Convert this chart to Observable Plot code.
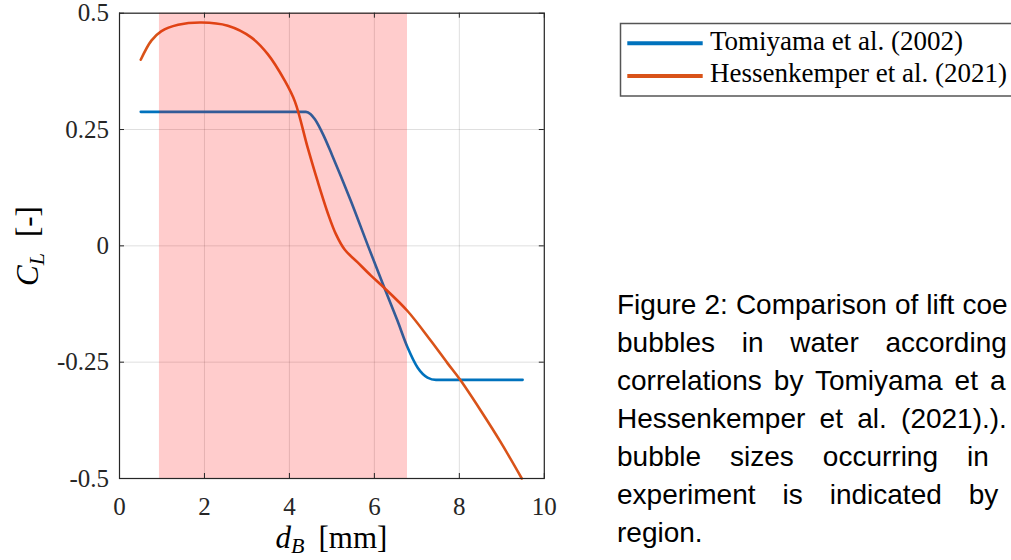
<!DOCTYPE html>
<html><head><meta charset="utf-8">
<script src="https://cdn.jsdelivr.net/npm/d3@7"></script>
<script src="https://cdn.jsdelivr.net/npm/@observablehq/plot@0.6"></script>
<style>
html,body{margin:0;padding:0;background:#fff;}
#wrap{position:relative;width:1011px;height:560px;overflow:hidden;}
#wrap svg{display:block;}
#legend{position:absolute;left:0;top:0;pointer-events:none;}
#caption{position:absolute;left:617px;top:286px;font-family:"Liberation Sans",Arial,sans-serif;font-size:28px;line-height:38px;color:#000;white-space:nowrap;}
</style></head><body>
<div id="wrap"></div>
<script>
// ---- data ----
const xTicks = [0, 2, 4, 6, 8, 10];
const xTickLabels = ["0", "2", "4", "6", "8", "10"];
const yTicks = [-0.5, -0.25, 0, 0.25, 0.5];
const yTickLabels = ["-0.5", "-0.25", "0", "0.25", "0.5"];

const tomiyamaD  = [0.5, 4.39, 4.5, 4.6, 4.8, 5.0, 5.44, 5.85, 6.23, 6.54, 6.78, 7.02, 7.25, 7.45, 9.49];
const tomiyamaCL = [0.288, 0.288, 0.283, 0.272, 0.238, 0.196, 0.098, 0.0, -0.089, -0.16, -0.218, -0.262, -0.283, -0.288, -0.288];

const hessD  = [0.5, 0.75, 0.98, 1.38, 1.93, 2.55, 3.1, 3.49, 3.89, 4.13, 4.43, 4.66, 4.92, 5.1, 5.3, 5.6, 5.92, 6.23, 6.78, 7.33, 7.72, 8.02, 8.51, 8.98, 9.47];
const hessCL = [0.40, 0.441, 0.461, 0.475, 0.480, 0.473, 0.448, 0.412, 0.355, 0.31, 0.211, 0.14, 0.066, 0.024, -0.008, -0.035, -0.064, -0.090, -0.140, -0.204, -0.252, -0.288, -0.355, -0.423, -0.5];

const shadeRange = [0.94, 6.78];
const seriesNames = ["Tomiyama et al. (2002)", "Hessenkemper et al. (2021)"];
const seriesColors = ["#0072BD", "#D95319"];

const captionLines = [
  "Figure 2: Comparison of lift coe",
  "bubbles in water according",
  "correlations by Tomiyama et a",
  "Hessenkemper et al. (2021).).",
  "bubble sizes occurring in",
  "experiment is indicated by",
  "region."
];
const captionWordSpacing = [0.3, 18.9, 4.3, 6.5, 21.2, 19.2, 0];

// ---- build ----
const W = 1011, H = 560;
const mL = 119, mR = 467.2, mT = 12.7, mB = 82;
const frameW = W - mL - mR, frameH = H - mT - mB;
const tickLen = 5;

const tom = tomiyamaD.map((d, i) => ({d, cl: tomiyamaCL[i]}));
const hes = hessD.map((d, i) => ({d, cl: hessCL[i]}));
const shade = [{x1: shadeRange[0], x2: shadeRange[1]}];
const serif = "'Liberation Serif','Times New Roman',serif";
const axisColor = "#262626";

const plot = Plot.plot({
  width: W, height: H,
  marginLeft: mL, marginRight: mR, marginTop: mT, marginBottom: mB,
  x: {domain: [0, 10], label: null},
  y: {domain: [-0.5, 0.5], label: null},
  style: {fontFamily: serif, background: "transparent", color: axisColor, overflow: "visible"},
  marks: [
    Plot.gridX(xTicks, {stroke: axisColor, strokeOpacity: 0.15, strokeWidth: 1}),
    Plot.gridY(yTicks, {stroke: axisColor, strokeOpacity: 0.15, strokeWidth: 1}),
    Plot.line(tom, {x: "d", y: "cl", stroke: seriesColors[0], strokeWidth: 2.6, curve: "monotone-x"}),
    Plot.line(hes, {x: "d", y: "cl", stroke: seriesColors[1], strokeWidth: 2.6, curve: "catmull-rom"}),
    Plot.rect(shade, {x1: "x1", x2: "x2", fill: "#ff0000", fillOpacity: 0.2}),
    // inward ticks on all four sides
    Plot.ruleX(xTicks, {x: d => d, stroke: axisColor, insetTop: frameH - tickLen}),
    Plot.ruleX(xTicks, {x: d => d, stroke: axisColor, insetBottom: frameH - tickLen}),
    Plot.ruleY(yTicks, {y: d => d, stroke: axisColor, insetRight: frameW - tickLen}),
    Plot.ruleY(yTicks, {y: d => d, stroke: axisColor, insetLeft: frameW - tickLen}),
    Plot.frame({stroke: axisColor, strokeWidth: 1.2}),
    Plot.axisX(xTicks, {anchor: "bottom", tickSize: 0, tickPadding: 18.5, fontSize: 25,
      tickFormat: d => xTickLabels[xTicks.indexOf(d)]}),
    Plot.axisY(yTicks, {anchor: "left", tickSize: 0, tickPadding: 10.5, fontSize: 25,
      tickFormat: d => yTickLabels[yTicks.indexOf(d)]})
  ]
});

const wrap = document.getElementById("wrap");
wrap.appendChild(plot);

const svg = d3.select(plot);
// y-axis label  C_L [-]
const yl = svg.append("text")
  .attr("transform", "translate(38,246) rotate(-90)")
  .attr("text-anchor", "middle")
  .attr("font-family", serif).attr("font-size", 31).attr("fill", "#000");
yl.append("tspan").attr("font-style", "italic").text("C");
yl.append("tspan").attr("font-style", "italic").attr("font-size", 22).attr("dy", 6).text("L");
yl.append("tspan").attr("dy", -6).attr("dx", 16).text("[-]");

// x-axis label  d_B [mm]
const xl = svg.append("text")
  .attr("x", 331.5).attr("y", 548)
  .attr("text-anchor", "middle")
  .attr("font-family", serif).attr("font-size", 31).attr("fill", "#000");
xl.append("tspan").attr("font-style", "italic").text("d");
xl.append("tspan").attr("font-style", "italic").attr("font-size", 22).attr("dy", 5).text("B");
xl.append("tspan").attr("dy", -5).attr("dx", 14).text("[mm]");

// legend
const leg = d3.select(wrap).append("svg").attr("id", "legend")
  .attr("width", W).attr("height", H);
leg.append("rect").attr("x", 620.5).attr("y", 23.5).attr("width", 420).attr("height", 72.5)
  .attr("fill", "#fff").attr("stroke", "#555").attr("stroke-width", 1.5);
const legY = [43.3, 76];
const legBase = [50, 81.7];
seriesNames.forEach((name, i) => {
  leg.append("line").attr("x1", 627.3).attr("x2", 702.7).attr("y1", legY[i]).attr("y2", legY[i])
    .attr("stroke", seriesColors[i]).attr("stroke-width", 4);
  leg.append("text").attr("x", 710).attr("y", legBase[i])
    .attr("font-family", serif).attr("font-size", 27).attr("fill", "#000").text(name);
});

// caption
const cap = d3.select(wrap).append("div").attr("id", "caption");
captionLines.forEach((line, i) => {
  cap.append("div").style("word-spacing", captionWordSpacing[i] + "px").text(line);
});
</script>
</body></html>
